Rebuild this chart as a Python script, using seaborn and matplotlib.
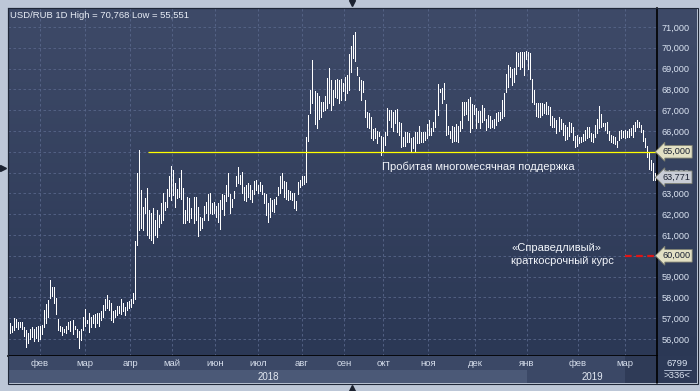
import numpy as np
import pandas as pd
import seaborn as sns
import matplotlib.pyplot as plt
from matplotlib.patches import Rectangle
from matplotlib.lines import Line2D
from matplotlib.colors import LinearSegmentedColormap
import matplotlib.transforms as mtrans

# =========================
# Data: daily USD/RUB bars (high / low)
# =========================
highs = [
    56.75, 56.62, 56.99, 56.94, 56.83, 56.80, 56.83, 56.56, 56.43, 56.30, 56.46, 56.56, 56.50, 56.56, 56.60,
    56.62, 56.67, 57.39, 57.68, 57.87, 58.83, 58.51, 58.48, 57.95, 56.94, 56.60, 56.56, 56.46, 56.62, 56.83,
    56.88, 56.91, 56.62, 56.46, 56.40, 56.50, 57.07, 57.42, 56.91, 57.26, 57.04, 57.15, 57.20, 57.26, 57.26,
    57.36, 57.63, 57.90, 58.11, 57.87, 57.74, 57.36, 57.39, 57.58, 57.58, 57.90, 57.74, 57.55, 57.79, 57.84,
    57.90, 58.22,
    60.70, 63.99, 65.08, 63.16, 62.36, 62.76, 63.24, 62.20, 62.04, 62.28, 61.72, 62.20, 61.96, 62.52, 63.03,
    62.60, 63.19, 63.83, 64.31, 64.12, 63.48, 63.19, 63.72, 64.12, 63.24, 62.20, 62.81, 62.76, 62.28, 62.81,
    62.81, 62.33, 61.84, 61.80, 62.39, 62.60, 62.97, 63.00, 62.55, 62.60, 62.39, 62.55, 62.68, 62.97, 62.92,
    63.40, 63.99, 62.97, 62.71, 63.13, 63.83, 64.25, 63.88, 64.04, 63.32, 63.40, 63.51, 63.40, 63.16, 63.61,
    63.64, 63.40, 63.56, 63.40, 63.03, 62.97, 62.55, 62.76, 62.68, 62.71, 62.84, 63.32, 63.83, 63.99, 63.61,
    63.56, 63.16, 63.13, 63.03, 63.03, 62.65, 63.56, 63.64, 63.83, 63.83, 65.72, 66.76,
    67.97, 69.41, 67.92, 67.81, 67.69, 67.37, 67.40, 67.69, 68.53, 69.04, 68.45, 67.97, 68.45, 68.50, 68.45,
    68.50, 68.29, 68.61, 68.69, 69.68, 70.10, 70.61, 70.77, 69.09, 68.61, 68.45, 68.40, 67.48, 66.92, 66.84,
    66.68, 66.09, 66.12, 65.99, 65.96, 65.77, 65.72, 65.93, 67.08, 67.00, 67.00, 66.89, 67.00, 67.05, 66.44,
    66.36, 65.72, 65.93, 65.93, 65.88, 65.67, 65.72, 65.96, 65.93, 66.25, 65.93, 65.93, 65.93, 66.31, 66.52,
    66.15, 66.41, 67.00, 68.24, 68.01, 68.08, 68.29, 67.28, 66.25, 65.99, 66.25, 66.20, 66.31, 66.25, 66.47,
    67.40, 67.37, 67.37, 67.53, 67.65, 67.28, 67.24, 67.12, 66.96, 66.96, 67.24,
    67.08, 66.56, 66.76, 66.72, 66.52, 66.56, 66.88, 66.92, 66.92, 67.48, 67.84, 68.73, 69.17, 69.06, 68.96,
    69.01, 69.81, 69.76, 69.81, 69.81, 69.81, 69.86, 69.81, 69.73, 68.48, 67.97, 67.36, 67.36, 67.33, 67.36,
    67.29, 67.41, 67.20, 67.17, 66.72, 66.60, 66.52, 66.65, 66.56, 66.40, 66.28, 66.20, 66.44, 66.40, 66.20,
    65.75, 65.80, 65.72, 65.72, 65.85, 66.04, 66.20, 66.17, 65.92, 65.85, 66.28, 66.56, 67.20, 66.81, 66.40,
    66.40, 66.44, 66.01, 65.80, 65.75, 65.69, 65.53, 66.01, 66.04, 66.01, 66.04, 66.01, 66.07, 66.12, 66.28,
    66.44, 66.52, 66.44, 66.28, 66.04, 65.64, 65.27, 64.92, 64.60, 64.44, 64.00,
]
lows = [
    56.27, 56.35, 56.43, 56.56, 56.46, 56.56, 56.46, 56.14, 55.63, 55.80, 55.98, 56.10, 55.90, 56.03, 55.90,
    55.98, 56.24, 56.56, 56.75, 57.07, 57.95, 58.06, 57.71, 57.20, 56.43, 56.40, 56.20, 56.35, 56.27, 56.46,
    56.40, 56.24, 56.46, 56.10, 55.55, 55.95, 56.43, 56.62, 56.75, 56.35, 56.59, 56.78, 56.56, 56.75, 56.62,
    56.91, 57.04, 57.39, 57.47, 57.39, 56.91, 56.83, 57.04, 57.15, 57.26, 57.20, 57.36, 57.15, 57.39, 57.47,
    57.55, 57.71,
    57.90, 60.50, 61.23, 61.31, 61.23, 62.04, 60.99, 60.83, 60.75, 60.59, 60.99, 60.91, 61.40, 61.56, 61.72,
    62.20, 62.36, 62.87, 62.68, 62.92, 62.36, 62.76, 62.84, 62.71, 61.56, 61.56, 61.72, 61.64, 61.80, 61.56,
    61.72, 60.95, 61.23, 61.31, 61.72, 62.04, 61.72, 62.04, 62.00, 62.04, 61.88, 61.64, 61.27, 62.23, 61.96,
    62.65, 62.87, 62.04, 62.33, 62.76, 63.35, 63.48, 63.45, 63.00, 62.68, 62.65, 62.84, 62.71, 62.60, 62.97,
    63.16, 63.00, 63.13, 62.97, 62.52, 61.96, 61.64, 61.88, 62.17, 62.12, 62.49, 62.92, 63.03, 63.24, 62.81,
    62.71, 62.68, 62.71, 62.68, 62.28, 62.20, 62.97, 63.32, 63.40, 63.45, 63.56, 65.51,
    66.84, 67.32, 66.32, 66.12, 66.57, 66.68, 66.96, 67.00, 67.12, 67.32, 67.00, 67.24, 67.65, 67.60, 67.32,
    67.48, 67.92, 67.48, 67.80, 67.97, 68.85, 69.49, 69.36, 68.69, 67.97, 67.48, 67.89, 66.68, 66.20, 66.12,
    65.64, 65.56, 65.67, 65.40, 65.77, 64.84, 65.00, 65.32, 65.80, 66.52, 66.20, 65.99, 66.36, 65.96, 65.80,
    65.24, 65.29, 65.29, 65.45, 65.48, 65.03, 65.16, 64.97, 65.40, 65.40, 65.45, 65.45, 65.56, 65.67, 65.80,
    65.80, 65.99, 66.20, 66.76, 67.89, 67.32, 67.53, 65.80, 65.83, 65.67, 65.48, 65.51, 65.51, 65.48, 65.99,
    66.15, 66.76, 66.80, 66.52, 65.93, 66.15, 66.80, 66.12, 66.41, 66.12, 66.44,
    66.52, 66.04, 66.17, 66.12, 66.17, 66.12, 66.28, 66.49, 66.52, 66.60, 66.72, 67.89, 68.13, 68.61, 68.20,
    68.37, 68.73, 69.12, 68.96, 69.09, 68.69, 69.44, 68.96, 68.48, 67.41, 67.29, 66.72, 66.65, 66.65, 66.76,
    66.88, 66.81, 66.81, 66.28, 66.20, 66.17, 65.88, 66.01, 66.07, 65.80, 65.56, 65.59, 65.76, 65.96, 65.56,
    65.21, 65.27, 65.43, 65.48, 65.53, 65.56, 65.64, 65.69, 65.53, 65.48, 65.72, 65.88, 66.12, 66.20, 66.24,
    66.04, 65.88, 65.56, 65.48, 65.43, 65.37, 65.21, 65.56, 65.64, 65.69, 65.64, 65.69, 65.69, 65.80, 65.69,
    66.01, 66.17, 66.20, 65.96, 65.53, 65.21, 64.76, 64.15, 64.12, 63.64, 63.64,
]

month_labels = ["фев", "мар", "апр", "май", "июн", "июл", "авг", "сен", "окт", "ноя", "дек", "янв", "фев", "мар"]
month_pos = [14.9, 37.2, 59.5, 80.3, 101.7, 123.0, 144.8, 165.6, 185.0, 207.3, 230.6, 256.4, 281.7, 305.0]
year_labels = ["2018", "2019"]
year_pos = [127.9, 288.6]

support_level = 65.0
fair_level = 60.0
last_price = 63.771

n = len(highs)
df = pd.DataFrame({
    "bar": np.concatenate([np.arange(n), np.arange(n)]),
    "price": np.concatenate([highs, lows]),
})

# =========================
# Figure layout (pixel based)
# =========================
sns.set_theme(style="dark")
plt.rcParams["font.family"] = ["Liberation Sans", "DejaVu Sans"]

W, H = 700, 391


def frac(x0, y0, x1, y1):
    return [x0 / W, 1 - y1 / H, (x1 - x0) / W, (y1 - y0) / H]


fig = plt.figure(figsize=(7, 3.91), dpi=100)
fig.patch.set_facecolor("#bdc7d7")

# gradient background behind the chart and price column
bg = fig.add_axes(frac(8, 8, 697, 356))
bg.axis("off")
cmap = LinearSegmentedColormap.from_list("bg", ["#3e4a68", "#2b3855"])
bg.imshow(np.linspace(0, 1, 256).reshape(-1, 1), aspect="auto", cmap=cmap, extent=[0, 1, 0, 1])

ax = fig.add_axes(frac(8, 8, 657, 356))
ax.set_facecolor("none")

step = (655.3 - 10) / (n - 1)
x_lo = -(10 - 8) / step
x_hi = (n - 1) + (657 - 655.3) / step

# one vertical high-low bar per day
sns.lineplot(data=df, x="bar", y="price", units="bar", estimator=None, sort=False,
             color="white", lw=0.7, antialiased=False, legend=False, ax=ax)

ax.set_xlim(x_lo, x_hi)
ax.set_ylim(55.18, 71.91)

# grid
ax.set_xticks(month_pos)
ax.set_yticks(np.arange(56, 72))
ax.grid(True, color="#58668a", lw=0.6, linestyle=(0, (3, 3)))
ax.tick_params(axis="x", length=0, labelbottom=False)
ax.yaxis.tick_right()
ax.set_yticklabels([f"{v:.3f}".replace(".", ",") for v in np.arange(56, 72)])
ax.tick_params(axis="y", length=0, pad=3, labelsize=6.6, labelcolor="#dce5f3")
ax.set_xlabel("")
ax.set_ylabel("")
for side in ["top", "left"]:
    ax.spines[side].set_color("#1f2738")
    ax.spines[side].set_linewidth(0.8)
for side in ["right", "bottom"]:
    ax.spines[side].set_color("black")
    ax.spines[side].set_linewidth(1.2)

# support line and fair value line
ax.hlines(support_level, 68.3, x_hi, color="#ffff00", lw=0.9, zorder=4)
ax.hlines(fair_level, 305.0, x_hi, color="#e01515", lw=1.6, linestyles=(0, (3, 2)), zorder=4)

# price boxes on the right
blend = mtrans.blended_transform_factory(ax.transAxes, ax.transData)
for val, fc in [(support_level, "#e2e0c4"), (last_price, "#c9cdd6"), (fair_level, "#e2e0c4")]:
    ax.text(1.008, val, f"{val:.3f}".replace(".", ","), transform=blend, ha="left", va="center",
            fontsize=6.6, color="#1b2233", clip_on=False, zorder=10,
            bbox=dict(boxstyle="larrow,pad=0.2", fc=fc, ec="#7d7f70", lw=0.6))

# annotations
ax.text(382 / W, 1 - 167 / H, "Пробитая многомесячная поддержка", transform=fig.transFigure,
        fontsize=8.0, color="#f2f5fa", va="center", ha="left")
ax.text(511 / W, 1 - 248 / H, "«Справедливый»", transform=fig.transFigure,
        fontsize=8.0, color="#f2f5fa", va="center", ha="left")
ax.text(511 / W, 1 - 261 / H, "краткосрочный курс", transform=fig.transFigure,
        fontsize=8.0, color="#f2f5fa", va="center", ha="left")

fig.text(10 / W, 1 - 15 / H, "USD/RUB 1D High = 70,768 Low = 55,551",
         fontsize=6.8, color="#e8edf6", va="center", ha="left")

# =========================
# Month / year band
# =========================
axb = fig.add_axes(frac(8, 356, 657, 383))
axb.set_xlim(x_lo, x_hi)
axb.set_ylim(0, 1)
axb.set_facecolor("#3b4866")
axb.add_patch(Rectangle((x_lo, 0), month_pos[11] - x_lo, 13 / 27, fc="#4b5977", ec="none"))
axb.add_patch(Rectangle((month_pos[13], 0), x_hi - month_pos[13], 1, fc="#2f3b57", ec="none"))
for p, lab in zip(month_pos, month_labels):
    axb.text(p, 0.74, lab, ha="center", va="center", fontsize=6.8, color="#d5ddeb")
for p, lab in zip(year_pos, year_labels):
    axb.text(p, 0.23, lab, ha="center", va="center", fontsize=7.0, color="#e2e8f2")
axb.set_xticks([])
axb.set_yticks([])
for s in axb.spines.values():
    s.set_visible(False)

# bottom right corner panel
fig.add_artist(Rectangle((657 / W, 1 - 383 / H), 40 / W, 27 / H, transform=fig.transFigure,
                         fc="#2c3956", ec="none"))
fig.text(677 / W, 1 - 363 / H, "6799", ha="center", va="center", fontsize=6.8, color="#dce5f3")
fig.add_artist(Line2D([664 / W, 691 / W], [1 - 369.5 / H, 1 - 369.5 / H], transform=fig.transFigure,
                      color="#aab6cc", lw=0.7))
fig.text(677 / W, 1 - 376 / H, ">336<", ha="center", va="center", fontsize=6.8, color="#dce5f3")
fig.add_artist(Line2D([657 / W, 657 / W], [1 - 356 / H, 1 - 383 / H], transform=fig.transFigure,
                      color="black", lw=1.2))

# outer border of the dark panel
fig.add_artist(Rectangle((7.5 / W, 1 - 383.5 / H), 690 / W, 376 / H, transform=fig.transFigure,
                         fc="none", ec="#1f2738", lw=0.8))

# small navigation triangles
for (px, py, m) in [(352, 3, "v"), (352, 388, "^"), (3, 168, ">")]:
    fig.add_artist(Line2D([px / W], [1 - py / H], transform=fig.transFigure,
                          marker=m, ms=5, color="#1c2230", lw=0))

fig.savefig("out.png", dpi=100, facecolor=fig.get_facecolor())
